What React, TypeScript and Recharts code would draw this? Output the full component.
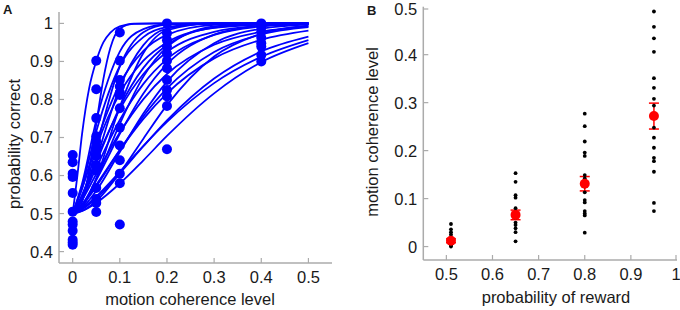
import React from 'react';
import { ComposedChart, Line, Scatter, XAxis, YAxis, ErrorBar } from 'recharts';

const BLUE = '#0000ff';
const AXIS = '#ababab';
const INK = '#1a1a1a';
const FONT = '"Liberation Sans", Arial, Helvetica, sans-serif';

// ---- panel A: psychometric data ----
const A_X_TICKS = [0, 0.1, 0.2, 0.3, 0.4, 0.5];
const A_Y_TICKS = [0.4, 0.5, 0.6, 0.7, 0.8, 0.9, 1];
const COHERENCE = [0, 0.05, 0.1, 0.2, 0.4];
const CORRECT = [
  [0.654, 0.635, 0.605, 0.596, 0.554, 0.505, 0.479, 0.471, 0.455, 0.431, 0.424, 0.418],
  [0.902, 0.827, 0.751, 0.703, 0.69, 0.676, 0.652, 0.628, 0.613, 0.567, 0.538, 0.528, 0.504],
  [0.976, 0.902, 0.851, 0.834, 0.818, 0.812, 0.777, 0.726, 0.679, 0.64, 0.605, 0.58, 0.471],
  [1.0, 0.974, 0.956, 0.939, 0.921, 0.902, 0.882, 0.851, 0.825, 0.808, 0.783, 0.669],
  [1.0, 0.99, 0.978, 0.962, 0.948, 0.939, 0.917, 0.9],
];

const FIT_X = [0, 0.02, 0.05, 0.1, 0.15, 0.2, 0.3, 0.4, 0.5];
const FITS = [
  [0.5, 0.579, 0.745, 0.926, 0.985, 0.998, 1, 1, 1],
  [0.5, 0.573, 0.716, 0.888, 0.964, 0.99, 0.9995, 1, 1],
  [0.5, 0.54, 0.674, 0.887, 0.977, 0.997, 1, 1, 1],
  [0.5, 0.566, 0.686, 0.841, 0.928, 0.97, 0.996, 0.9995, 1],
  [0.5, 0.534, 0.643, 0.832, 0.943, 0.986, 1, 1, 1],
  [0.5, 0.567, 0.676, 0.816, 0.902, 0.95, 0.988, 0.997, 0.9995],
  [0.5, 0.516, 0.593, 0.781, 0.922, 0.982, 1, 1, 1],
  [0.5, 0.541, 0.634, 0.78, 0.883, 0.943, 0.989, 0.998, 1],
  [0.5, 0.55, 0.642, 0.774, 0.867, 0.925, 0.978, 0.994, 0.999],
  [0.5, 0.52, 0.59, 0.736, 0.86, 0.9375, 0.992, 0.9994, 1],
  [0.5, 0.54, 0.62, 0.746, 0.841, 0.906, 0.97, 0.992, 0.998],
  [0.5, 0.524, 0.588, 0.71, 0.816, 0.893, 0.9705, 0.9935, 0.999],
  [0.5, 0.536, 0.604, 0.713, 0.801, 0.867, 0.944, 0.978, 0.992],
  [0.5, 0.515, 0.56, 0.662, 0.763, 0.847, 0.948, 0.986, 0.997],
  [0.5, 0.521, 0.571, 0.667, 0.756, 0.829, 0.925, 0.971, 0.99],
  [0.5, 0.511, 0.54, 0.606, 0.677, 0.745, 0.855, 0.926, 0.965],
  [0.5, 0.507, 0.528, 0.579, 0.64, 0.704, 0.816, 0.898, 0.948],
  [0.5, 0.513, 0.545, 0.61, 0.678, 0.741, 0.843, 0.912, 0.956],
  [0.5, 0.524, 0.576, 0.667, 0.749, 0.816, 0.908, 0.957, 0.981],
  [0.5, 0.507, 0.533, 0.607, 0.697, 0.785, 0.913, 0.973, 0.994],
];
// the two steepest fits need more points near zero
const STEEP_X = [0, 0.01, 0.02, 0.035, 0.05, 0.065, 0.08, 0.1, 0.13, 0.2, 0.3, 0.4, 0.5];
const STEEP_FITS = [
  [0.5, 0.6, 0.71, 0.83, 0.901, 0.95, 0.976, 0.992, 0.999, 1, 1, 1, 1],
  [0.5, 0.506, 0.531, 0.615, 0.735, 0.853, 0.936, 0.986, 0.9995, 1, 1, 1, 1],
];

// ---- panel B: thresholds vs reward ----
const B_X_TICKS = [0.5, 0.6, 0.7, 0.8, 0.9, 1];
const B_Y_TICKS = [0, 0.1, 0.2, 0.3, 0.4, 0.5];
const REWARD = [0.51, 0.65, 0.8, 0.95];
const THRESHOLDS = [
  [0.047, 0.036, 0.03, 0.025, 0.02, 0.015, 0.01, 0.005, 0.002, 0],
  [0.153, 0.135, 0.107, 0.102, 0.08, 0.072, 0.06, 0.05, 0.045, 0.038, 0.03, 0.011],
  [0.277, 0.251, 0.219, 0.196, 0.189, 0.149, 0.142, 0.125, 0.113, 0.097, 0.092, 0.074, 0.069, 0.065, 0.029],
  [0.49, 0.458, 0.434, 0.406, 0.351, 0.331, 0.308, 0.294, 0.248, 0.227, 0.206, 0.185, 0.178, 0.156, 0.091, 0.074],
];
const MEAN_THRESHOLD = [0.012, 0.066, 0.131, 0.272];
const SEM_THRESHOLD = [0.004, 0.01, 0.015, 0.027];

const toPoints = (xs: number[], ys: number[]) => xs.map((x, i) => ({ x, y: ys[i] }));

const dotsA = COHERENCE.flatMap((c, i) => CORRECT[i].map((y) => ({ x: c, y })));
const dotsB = REWARD.flatMap((r, i) => THRESHOLDS[i].map((y) => ({ x: r, y })));
const meansB = REWARD.map((r, i) => ({ x: r, y: MEAN_THRESHOLD[i], err: SEM_THRESHOLD[i] }));

const fmt = (v: number) => String(v);

// matlab style ticks: marks point into the plot
const yTick = (axisX: number) => (props: any) => {
  const { y, payload } = props;
  return (
    <g>
      <line x1={axisX} x2={axisX + 5} y1={y} y2={y} stroke={AXIS} strokeWidth={1.2} />
      <text x={axisX - 6} y={y} dy="0.36em" textAnchor="end" fontSize={16.5} fill={INK} fontFamily={FONT}>
        {fmt(payload.value)}
      </text>
    </g>
  );
};

const xTick = (axisY: number) => (props: any) => {
  const { x, payload } = props;
  return (
    <g>
      <line x1={x} x2={x} y1={axisY} y2={axisY - 5} stroke={AXIS} strokeWidth={1.2} />
      <text x={x} y={axisY + 19.5} textAnchor="middle" fontSize={16.5} fill={INK} fontFamily={FONT}>
        {fmt(payload.value)}
      </text>
    </g>
  );
};

const blueDot = (p: any) => <circle cx={p.cx} cy={p.cy} r={5} fill={BLUE} />;
const blackDot = (p: any) => <circle cx={p.cx} cy={p.cy} r={1.9} fill="#000" />;
const redDot = (p: any) => <circle cx={p.cx} cy={p.cy} r={5} fill="#ff0000" />;

function PanelA() {
  return (
    <ComposedChart width={340} height={310} margin={{ top: 12, right: 8, bottom: 0, left: 0 }}>
      <XAxis
        type="number"
        dataKey="x"
        domain={[-0.029, 0.55]}
        ticks={A_X_TICKS}
        allowDataOverflow
        height={47}
        axisLine={{ stroke: AXIS, strokeWidth: 1.5 }}
        tickLine={false}
        tick={xTick(263)}
      />
      <YAxis
        type="number"
        dataKey="y"
        domain={[0.37, 1.03]}
        ticks={A_Y_TICKS}
        allowDataOverflow
        width={59}
        axisLine={{ stroke: AXIS, strokeWidth: 1.5 }}
        tickLine={false}
        tick={yTick(59)}
      />
      {FITS.map((ys, i) => (
        <Line
          key={'f' + i}
          data={toPoints(FIT_X, ys)}
          dataKey="y"
          type="monotone"
          stroke={BLUE}
          strokeWidth={1.8}
          dot={false}
          activeDot={false}
          isAnimationActive={false}
        />
      ))}
      {STEEP_FITS.map((ys, i) => (
        <Line
          key={'s' + i}
          data={toPoints(STEEP_X, ys)}
          dataKey="y"
          type="monotone"
          stroke={BLUE}
          strokeWidth={1.8}
          dot={false}
          activeDot={false}
          isAnimationActive={false}
        />
      ))}
      <Scatter data={dotsA} dataKey="y" shape={blueDot} isAnimationActive={false} />
    </ComposedChart>
  );
}

function PanelB() {
  return (
    <ComposedChart width={340} height={310} margin={{ top: 6.7, right: 3, bottom: 0, left: 0 }}>
      <XAxis
        type="number"
        dataKey="x"
        domain={[0.45, 1.0]}
        ticks={B_X_TICKS}
        allowDataOverflow
        height={50}
        axisLine={{ stroke: AXIS, strokeWidth: 1.5 }}
        tickLine={false}
        tick={xTick(260)}
      />
      <YAxis
        type="number"
        dataKey="y"
        domain={[-0.028, 0.5]}
        ticks={B_Y_TICKS}
        allowDataOverflow
        width={83.3}
        axisLine={{ stroke: AXIS, strokeWidth: 1.5 }}
        tickLine={false}
        tick={yTick(83.3)}
      />
      <Scatter data={dotsB} dataKey="y" shape={blackDot} isAnimationActive={false} />
      <Scatter data={meansB} dataKey="y" shape={redDot} isAnimationActive={false}>
        <ErrorBar dataKey="err" direction="y" width={5} stroke="#ff0000" strokeWidth={1.5} />
      </Scatter>
    </ComposedChart>
  );
}

export default function App() {
  const txt = { fontFamily: FONT, fill: INK } as const;
  return (
    <div style={{ position: 'absolute', left: 0, top: 0, width: 680, height: 310, background: '#fff' }}>
      <div style={{ position: 'absolute', left: 0, top: 0 }}>
        <PanelA />
      </div>
      <div style={{ position: 'absolute', left: 340, top: 0 }}>
        <PanelB />
      </div>
      <svg width={680} height={310} style={{ position: 'absolute', left: 0, top: 0, pointerEvents: 'none' }}>
        <text x={3} y={14} fontSize={13} fontWeight="bold" {...txt}>A</text>
        <text x={367} y={15} fontSize={13} fontWeight="bold" {...txt}>B</text>
        <text x={190} y={305} fontSize={16.5} textAnchor="middle" {...txt}>motion coherence level</text>
        <text
          transform="translate(13.5,144) rotate(-90)"
          fontSize={16.5}
          textAnchor="middle"
          dominantBaseline="central"
          {...txt}
        >
          probability correct
        </text>
        <text x={556} y={303} fontSize={16.5} textAnchor="middle" {...txt}>probability of reward</text>
        <text
          transform="translate(371.5,132) rotate(-90)"
          fontSize={16.5}
          textAnchor="middle"
          dominantBaseline="central"
          {...txt}
        >
          motion coherence level
        </text>
      </svg>
    </div>
  );
}
